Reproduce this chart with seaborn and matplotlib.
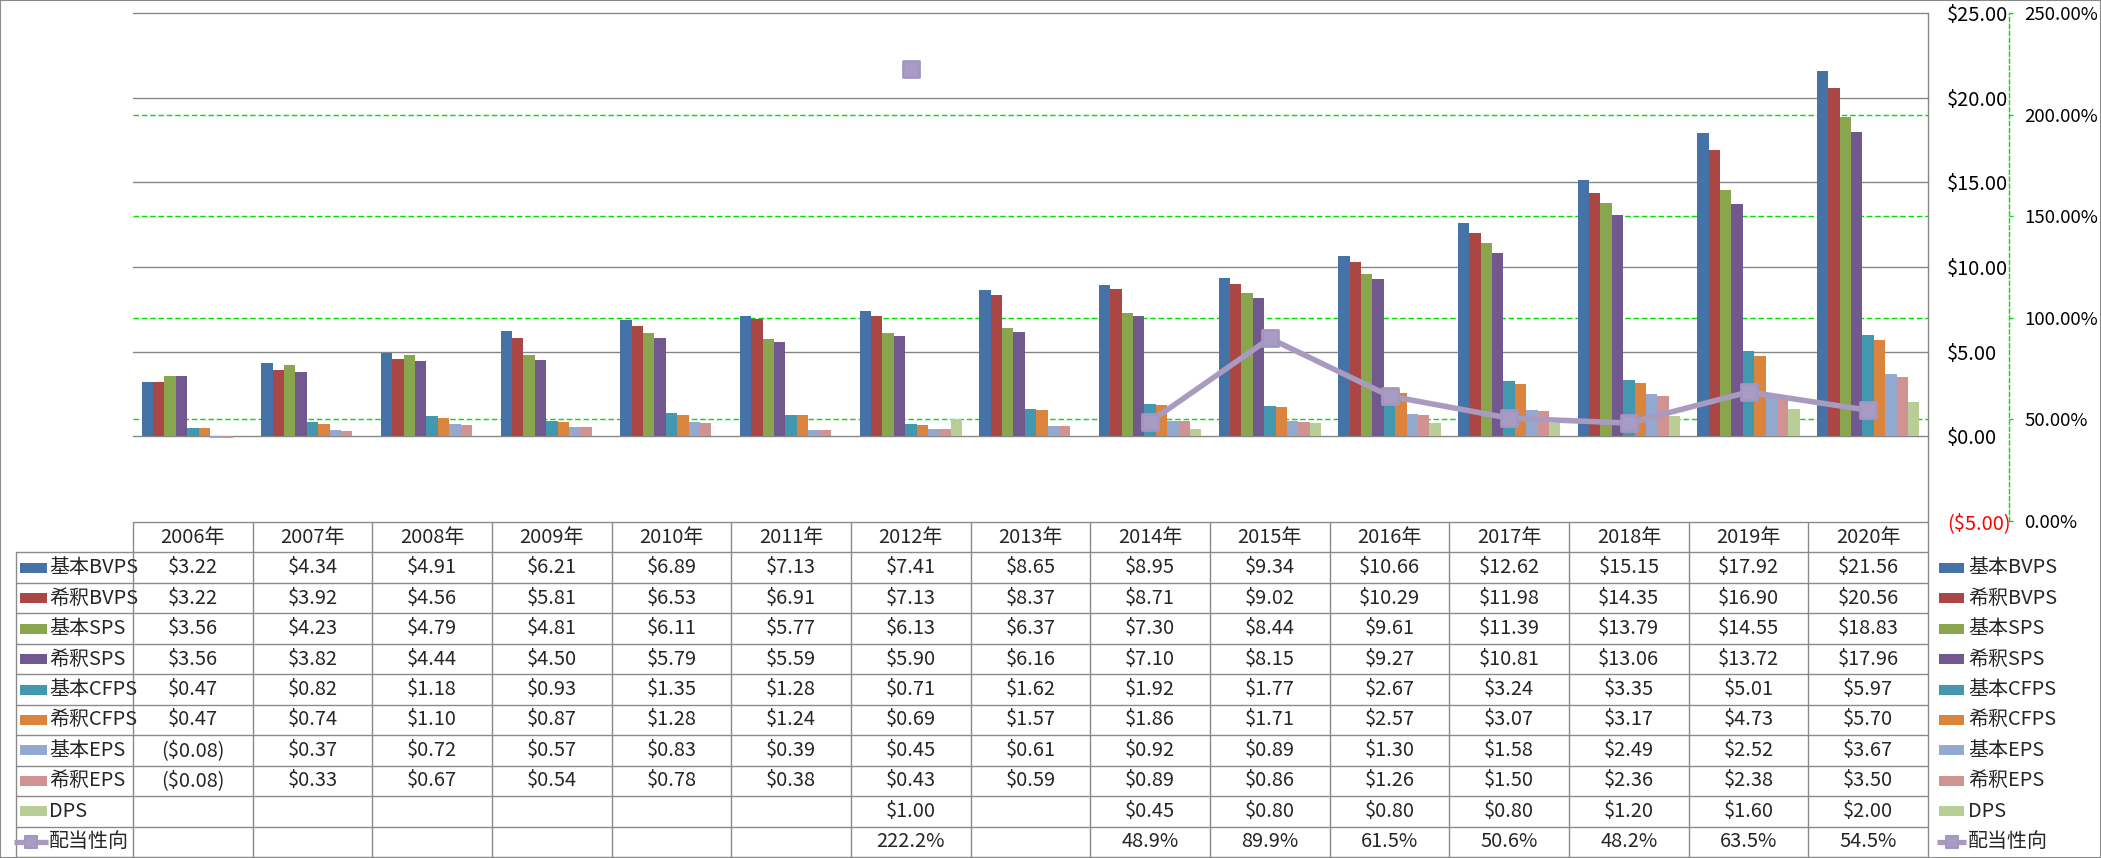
import numpy as np
import pandas as pd
import matplotlib
matplotlib.use("Agg")
import matplotlib.pyplot as plt
import seaborn as sns
from matplotlib.patches import Rectangle
from matplotlib.markers import MarkerStyle

# ---------------- data ----------------
years = ["2006年", "2007年", "2008年", "2009年", "2010年", "2011年", "2012年", "2013年",
         "2014年", "2015年", "2016年", "2017年", "2018年", "2019年", "2020年"]
series_names = ["基本BVPS", "希釈BVPS", "基本SPS", "希釈SPS", "基本CFPS",
                "希釈CFPS", "基本EPS", "希釈EPS", "DPS"]
line_name = "配当性向"

basic_bvps = [3.22, 4.34, 4.91, 6.21, 6.89, 7.13, 7.41, 8.65, 8.95, 9.34, 10.66, 12.62, 15.15, 17.92, 21.56]
dil_bvps = [3.22, 3.92, 4.56, 5.81, 6.53, 6.91, 7.13, 8.37, 8.71, 9.02, 10.29, 11.98, 14.35, 16.90, 20.56]
basic_sps = [3.56, 4.23, 4.79, 4.81, 6.11, 5.77, 6.13, 6.37, 7.30, 8.44, 9.61, 11.39, 13.79, 14.55, 18.83]
dil_sps = [3.56, 3.82, 4.44, 4.50, 5.79, 5.59, 5.90, 6.16, 7.10, 8.15, 9.27, 10.81, 13.06, 13.72, 17.96]
basic_cfps = [0.47, 0.82, 1.18, 0.93, 1.35, 1.28, 0.71, 1.62, 1.92, 1.77, 2.67, 3.24, 3.35, 5.01, 5.97]
dil_cfps = [0.47, 0.74, 1.10, 0.87, 1.28, 1.24, 0.69, 1.57, 1.86, 1.71, 2.57, 3.07, 3.17, 4.73, 5.70]
basic_eps = [-0.08, 0.37, 0.72, 0.57, 0.83, 0.39, 0.45, 0.61, 0.92, 0.89, 1.30, 1.58, 2.49, 2.52, 3.67]
dil_eps = [-0.08, 0.33, 0.67, 0.54, 0.78, 0.38, 0.43, 0.59, 0.89, 0.86, 1.26, 1.50, 2.36, 2.38, 3.50]
nan = np.nan
dps = [nan, nan, nan, nan, nan, nan, 1.00, nan, 0.45, 0.80, 0.80, 0.80, 1.20, 1.60, 2.00]
payout = [nan, nan, nan, nan, nan, nan, 222.2, nan, 48.9, 89.9, 61.5, 50.6, 48.2, 63.5, 54.5]

left_ticks = [-5, 0, 5, 10, 15, 20, 25]
right_ticks = [0, 50, 100, 150, 200, 250]

bar_colors = ["#4572A7", "#AA4643", "#89A54E", "#71588F", "#4198AF",
              "#DB843D", "#93A9CF", "#D19392", "#B9CD96"]
line_color = "#A99BBF"

series_values = [basic_bvps, dil_bvps, basic_sps, dil_sps, basic_cfps,
                 dil_cfps, basic_eps, dil_eps, dps]

# ---------------- style ----------------
sns.set_style("white")
plt.rcParams["font.family"] = ["Noto Sans CJK JP", "DejaVu Sans"]
FS = 14.4
GRID = "#868686"
GREEN = "#00E000"

W, H = 2101, 858
fig = plt.figure(figsize=(W / 100, H / 100), dpi=100)
fig.patch.set_facecolor("white")


def fx(px):
    return px / W


def fy(py):
    return 1 - py / H


X0, X1, YTOP, YBOT = 133, 1928, 13, 521
ax = fig.add_axes([fx(X0), fy(YBOT), fx(X1) - fx(X0), fy(YTOP) - fy(YBOT)])

rows = []
for name, vals in zip(series_names, series_values):
    for yr, v in zip(years, vals):
        rows.append({"year": yr, "series": name, "value": v})
df = pd.DataFrame(rows).dropna()

sns.barplot(data=df, x="year", y="value", hue="series", order=years,
            hue_order=series_names, palette=dict(zip(series_names, bar_colors)),
            width=0.857, gap=0, saturation=1, errorbar=None, legend=False,
            linewidth=0, ax=ax, zorder=2)

ax.set_xlim(-0.5, len(years) - 0.5)
ax.set_ylim(left_ticks[0], left_ticks[-1])
ax.set_xlabel("")
ax.set_ylabel("")
ax.tick_params(axis="x", bottom=False, labelbottom=False)

# gridlines: grey for $ axis, green dashed for % axis (behind bars)
for v in left_ticks[1:]:
    ax.axhline(v, color=GRID, lw=1.0, zorder=0.5, clip_on=False)
lo, hi = left_ticks[0], left_ticks[-1]
for p in right_ticks[1:-1]:
    yv = lo + p * (hi - lo) / right_ticks[-1]
    ax.axhline(yv, color=GREEN, lw=1.0, ls=(0, (4, 2)), zorder=0.6)

# secondary axis: payout ratio
ax2 = ax.twinx()
ax2.set_ylim(right_ticks[0], right_ticks[-1])
xs = np.arange(len(years))
pv = np.array(payout, dtype=float)
mk = MarkerStyle("s", joinstyle="round")
run = []
runs = []
for i, v in enumerate(pv):
    if np.isnan(v):
        if run:
            runs.append(run)
        run = []
    else:
        run.append(i)
if run:
    runs.append(run)
for r in runs:
    sns.lineplot(x=xs[r], y=pv[r], ax=ax2, color=line_color, lw=4.0,
                 marker=mk, markersize=11.5, markerfacecolor="#A89BC4",
                 markeredgecolor="#A396C0", markeredgewidth=2.0, zorder=5)
ax2.set_xlim(-0.5, len(years) - 0.5)
ax2.set_xlabel("")
ax2.set_ylabel("")
ax2.set_yticks(right_ticks)
ax2.set_yticklabels(["%.2f%%" % v for v in right_ticks])
ax2.tick_params(axis="y", color=GREEN, labelcolor="black", length=3, width=1,
                direction="out", pad=8.0, labelsize=13.4)
for s in ["left", "top", "bottom"]:
    ax2.spines[s].set_visible(False)
ax2.spines["right"].set_position(("axes", (2009 - X0) / (X1 - X0)))
ax2.spines["right"].set_color(GREEN)
ax2.spines["right"].set_linestyle((0, (3, 2)))
ax2.spines["right"].set_linewidth(1.0)
ax2.grid(False)

# primary $ axis labels on the right (after twinx)
ax.yaxis.tick_right()
ax.set_yticks(left_ticks)
ax.set_yticklabels([("(\\$%.2f)" % -v) if v < 0 else ("\\$%.2f" % v) for v in left_ticks])
ax.tick_params(axis="y", left=False, labelleft=False, right=True, labelright=True,
               length=0, pad=13.7, labelsize=FS, labelcolor="black")
for t, v in zip(ax.get_yticklabels(which="major"), left_ticks):
    t.set_color("#FF0000" if v < 0 else "black")
for s in ["left", "top", "bottom"]:
    ax.spines[s].set_visible(False)
ax.spines["right"].set_visible(True)
ax.spines["right"].set_color(GRID)
ax.spines["right"].set_linewidth(1.0)

# ---------------- data table ----------------
TL, TT, TB = 16, 522, 857
colw = (X1 - X0) / len(years)
LW = (X0 - TL) / colw
tax = fig.add_axes([fx(TL), fy(TB), fx(X1) - fx(TL), fy(TT) - fy(TB)])
tax.set_xlim(-LW, len(years))
nrows = len(series_names) + 2
tax.set_ylim(nrows, 0)
tax.axis("off")
TC = "#8A8A8A"
n = len(years)
tax.plot([0, n], [0, 0], color=TC, lw=1.0, clip_on=False)
for r in range(1, nrows + 1):
    tax.plot([-LW, n], [r, r], color=TC, lw=1.0, clip_on=False)
for j in range(n + 1):
    tax.plot([j, j], [0, nrows], color=TC, lw=1.0, clip_on=False)
tax.plot([-LW, -LW], [1, nrows], color=TC, lw=1.0, clip_on=False)

for j, yr in enumerate(years):
    tax.text(j + 0.5, 0.5, yr, ha="center", va="center", fontsize=FS)


def money(v):
    if np.isnan(v):
        return ""
    if v < 0:
        return "(\\$%.2f)" % -v
    return "\\$%.2f" % v


all_rows = [(nm, vals, money) for nm, vals in zip(series_names, series_values)]
all_rows.append((line_name, payout, lambda v: "" if np.isnan(v) else "%.1f%%" % v))


def px2x(px):
    return (px - X0) / colw


for i, (nm, vals, fmt) in enumerate(all_rows):
    yc = i + 1.5
    for j, v in enumerate(vals):
        s = fmt(float(v))
        if s:
            tax.text(j + 0.5, yc, s, ha="center", va="center", fontsize=FS)
    kh = 10 / ((TB - TT) / nrows)
    if i < len(series_names):
        tax.add_patch(Rectangle((px2x(20), yc - kh / 2), px2x(47) - px2x(20), kh,
                                facecolor=bar_colors[i], edgecolor="none", clip_on=False))
        tax.add_patch(Rectangle((px2x(1939), yc - kh / 2), px2x(1964) - px2x(1939), kh,
                                facecolor=bar_colors[i], edgecolor="none", clip_on=False))
    else:
        for a, b, c in [(14, 48, 31), (1937, 1966, 1952)]:
            tax.plot([px2x(a), px2x(b)], [yc, yc], color=line_color, lw=3.8,
                     solid_capstyle="butt", clip_on=False)
            tax.plot([px2x(c)], [yc], marker=mk, markersize=9, color="#A89BC4",
                     markeredgecolor="#A396C0", markeredgewidth=1.5, clip_on=False)
    tax.text(px2x(49), yc, nm, ha="left", va="center", fontsize=FS)
    tax.text(px2x(1968), yc, nm, ha="left", va="center", fontsize=FS)

# outer chart border
fig.add_artist(Rectangle((0, 0), 1, 1, transform=fig.transFigure, fill=False,
                         edgecolor="#8A8A8A", lw=1.5))

fig.savefig("out.png", dpi=100)
